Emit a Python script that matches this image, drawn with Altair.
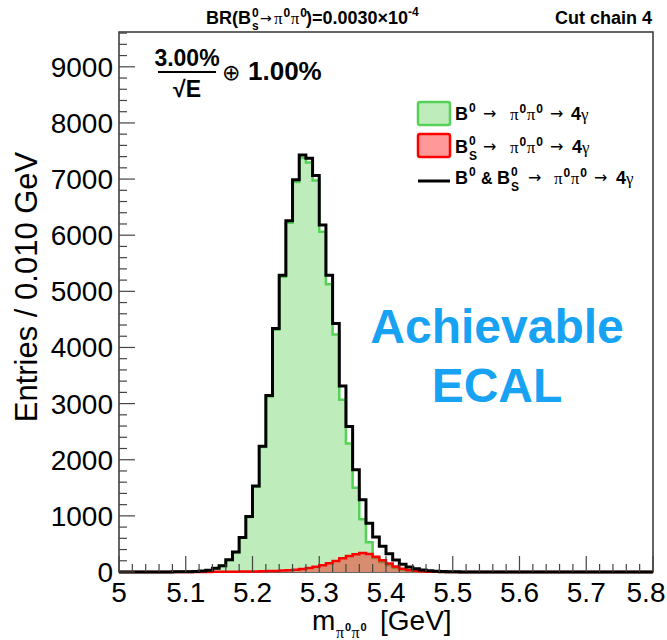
import altair as alt
import pandas as pd

FONT = "Liberation Sans"
SERIF = "Liberation Serif"
ARROW_FONT = "DejaVu Sans"
BLUE = "#17a2f3"

# ---------------- data ----------------
X_MIN, X_MAX = 5.0, 5.8
Y_MAX = 9620
BIN_WIDTH = 0.01
FIRST_FILLED_BIN = 5.05   # bins before this one are empty

# B0 & Bs -> pi0 pi0 -> 4 gamma (black outline), bins 5.05 ... 5.52
total_counts = [1, 1, 2, 3, 4, 6, 9, 16, 32, 66,
                112, 218, 358, 616, 988, 1530, 2238, 3143, 4336, 5286,
                6256, 6988, 7429, 7369, 7065, 6182, 5286, 4426, 3315, 2590,
                1821, 1286, 870, 625, 460, 325, 212, 140, 90, 56,
                35, 21, 13, 8, 5, 3, 2, 1]
# B0 -> pi0 pi0 -> 4 gamma (green), bins 5.05 ... 5.52
b0_counts = [1, 1, 2, 3, 4, 5, 8, 14, 30, 63,
             108, 213, 352, 609, 979, 1519, 2225, 3127, 4316, 5261,
             6224, 6946, 7374, 7297, 6973, 6062, 5128, 4230, 3070, 2290,
             1500, 940, 530, 250, 178, 119, 72, 42, 25, 15,
             9, 5, 3, 2, 1, 1, 0, 0]
# Bs -> pi0 pi0 -> 4 gamma (red), bins 5.05 ... 5.52
bs_counts = [0, 0, 0, 0, 0, 1, 1, 2, 2, 3,
             4, 5, 6, 7, 9, 11, 13, 16, 20, 25,
             32, 42, 55, 72, 92, 120, 158, 196, 245, 285,
             315, 340, 320, 272, 210, 150, 98, 60, 35, 20,
             11, 6, 3, 2, 1, 0, 0, 0]

x_tick_values = [5.0, 5.1, 5.2, 5.3, 5.4, 5.5, 5.6, 5.7, 5.8]
x_tick_labels = ["5", "5.1", "5.2", "5.3", "5.4", "5.5", "5.6", "5.7", "5.8"]
y_tick_values = [0, 1000, 2000, 3000, 4000, 5000, 6000, 7000, 8000, 9000]
y_tick_labels = ["0", "1000", "2000", "3000", "4000", "5000", "6000",
                 "7000", "8000", "9000"]
x_minor_ticks = [round(5.0 + 0.02 * i, 2) for i in range(41)]
y_minor_ticks = [200 * i for i in range(49)]

# ---------------- build step-histogram table ----------------
n_bins = int(round((X_MAX - X_MIN) / BIN_WIDTH))
offset = int(round((FIRST_FILLED_BIN - X_MIN) / BIN_WIDTH))


def pad(vals):
    arr = [0] * n_bins
    for i, v in enumerate(vals):
        arr[offset + i] = v
    return arr + [0]


edges = [round(X_MIN + i * BIN_WIDTH, 2) for i in range(n_bins + 1)]
hist = pd.DataFrame({"x": edges, "total": pad(total_counts),
                     "b0": pad(b0_counts), "bs": pad(bs_counts)})

xs = alt.Scale(domain=[X_MIN, X_MAX], nice=False, zero=False)
ys = alt.Scale(domain=[0, Y_MAX], nice=False)

X = lambda f: alt.X(f, scale=xs, axis=None)
Y = lambda f: alt.Y(f, scale=ys, axis=None)

base = alt.Chart(hist)
green_fill = base.mark_area(interpolate="step-after", color="#bfecbb").encode(
    x=X("x:Q"), y=Y("b0:Q"))
green_line = base.mark_line(interpolate="step-after", color="#55d157",
                            strokeWidth=2.5).encode(x=X("x:Q"), y=Y("b0:Q"))
red_fill = base.mark_area(interpolate="step-after", color="#ff0000",
                          opacity=0.4).encode(x=X("x:Q"), y=Y("bs:Q"))
red_line = base.mark_line(interpolate="step-after", color="#ff0000",
                          strokeWidth=2.5).encode(x=X("x:Q"), y=Y("bs:Q"))
black_line = base.mark_line(interpolate="step-after", color="black",
                            strokeWidth=3).encode(x=X("x:Q"), y=Y("total:Q"))

# ---------------- ROOT-style inner ticks and labels ----------------
xmaj = pd.DataFrame({"v": x_tick_values, "t": x_tick_labels})
xlab_inner = xmaj.iloc[:-1]
xlab_last = xmaj.iloc[-1:]
xmin = pd.DataFrame({"v": [v for v in x_minor_ticks
                           if abs(v * 10 - round(v * 10)) > 1e-6]})
ymaj = pd.DataFrame({"v": y_tick_values, "t": y_tick_labels})
ymin = pd.DataFrame({"v": [v for v in y_minor_ticks if v % 1000 != 0]})

TICK = "#444444"
ticks = [
    alt.Chart(xmaj).mark_rule(color=TICK, strokeWidth=1.2).encode(
        x=X("v:Q"), y=alt.value(540), y2=alt.value(524)),
    alt.Chart(xmin).mark_rule(color=TICK, strokeWidth=1.2).encode(
        x=X("v:Q"), y=alt.value(540), y2=alt.value(532)),
    alt.Chart(ymaj).mark_rule(color=TICK, strokeWidth=1.2).encode(
        y=Y("v:Q"), x=alt.value(0), x2=alt.value(16)),
    alt.Chart(ymin).mark_rule(color=TICK, strokeWidth=1.2).encode(
        y=Y("v:Q"), x=alt.value(0), x2=alt.value(8)),
]
tick_labels = [
    alt.Chart(xlab_inner).mark_text(align="center", baseline="alphabetic",
                                    font=FONT, fontSize=28, color="black").encode(
        x=X("v:Q"), y=alt.value(570), text="t:N"),
    alt.Chart(xlab_last).mark_text(align="center", baseline="alphabetic", dx=-7,
                                   font=FONT, fontSize=28, color="black").encode(
        x=X("v:Q"), y=alt.value(570), text="t:N"),
    alt.Chart(ymaj).mark_text(align="right", baseline="alphabetic", dy=10,
                              font=FONT, fontSize=28, color="black").encode(
        y=Y("v:Q"), x=alt.value(-6), text="t:N"),
]

# ---------------- text helpers ----------------
anchor = pd.DataFrame({"k": [0]})


def label(s, x, y, size, weight="normal", font=FONT, align="left",
          color="black", angle=0):
    return alt.Chart(anchor).mark_text(
        text=s, align=align, baseline="alphabetic", fontSize=size,
        fontWeight=weight, font=font, color=color, angle=angle).encode(
        x=alt.value(x), y=alt.value(y))


def pipi(x, y, s_pi=17, s_sup=12):
    rise = round(s_pi * 0.42)
    w_pi = 0.56 * s_pi
    w_sup = 0.6 * s_sup
    return [label("π", x, y, s_pi, font=SERIF),
            label("0", x + w_pi, y - rise, s_sup, "bold"),
            label("π", x + w_pi + w_sup, y, s_pi, font=SERIF),
            label("0", x + 2 * w_pi + w_sup, y - rise, s_sup, "bold")]


texts = []
# y-axis title
texts += [alt.Chart(anchor).mark_text(
    text="Entries / 0.010 GeV", align="center", baseline="middle",
    fontSize=31, font=FONT, color="black", angle=270).encode(
    x=alt.value(-91), y=alt.value(255))]

# top title
texts += [label("BR(B", 87, -8, 18, "bold"),
          label("0", 133, -15, 12, "bold"),
          label("s", 133, -2, 12, "bold"),
          label("→", 141, -9, 14, font=ARROW_FONT)]
texts += pipi(155, -8, 17, 12)
texts += [label(")=0.0030×10", 187, -8, 18, "bold"),
          label("-4", 289, -16, 12, "bold"),
          label("Cut chain 4", 533, -8, 18, "bold", align="right")]

# resolution formula
texts += [label("3.00%", 68, 34, 23, "bold", align="center"),
          label("√E", 68, 65, 23, "bold", align="center"),
          label("⊕", 103, 48, 22, font="DejaVu Sans"),
          label("1.00%", 129, 48, 26, "bold")]
frac_line = alt.Chart(anchor).mark_rule(color="black", strokeWidth=2).encode(
    x=alt.value(39), x2=alt.value(97), y=alt.value(40))

# legend
swatches = [
    alt.Chart(anchor).mark_rect(fill="#bfecbb", stroke="#55d157", strokeWidth=2.5,
                                cornerRadius=2).encode(
        x=alt.value(299), x2=alt.value(331), y=alt.value(70), y2=alt.value(93)),
    alt.Chart(anchor).mark_rect(fill="#ff9999", stroke="#ff0000", strokeWidth=2.5,
                                cornerRadius=2).encode(
        x=alt.value(299), x2=alt.value(331), y=alt.value(102), y2=alt.value(125)),
    alt.Chart(anchor).mark_rule(color="black", strokeWidth=3).encode(
        x=alt.value(299), x2=alt.value(331), y=alt.value(149)),
]
AR = 16
# row 1
texts += [label("B", 336, 88, 18, "bold"), label("0", 350, 80, 12, "bold"),
          label("→", 364, 87, AR, font=ARROW_FONT)]
texts += pipi(391, 88)
texts += [label("→", 431, 87, AR, font=ARROW_FONT),
          label("4", 452, 88, 18, "bold"),
          label("γ", 462, 88, 17, font=SERIF)]
# row 2
texts += [label("B", 336, 121, 18, "bold"), label("0", 350, 113, 12, "bold"),
          label("S", 350, 128, 12, "bold"),
          label("→", 364, 120, AR, font=ARROW_FONT)]
texts += pipi(391, 121)
texts += [label("→", 431, 120, AR, font=ARROW_FONT),
          label("4", 453, 121, 18, "bold"),
          label("γ", 463, 121, 17, font=SERIF)]
# row 3
texts += [label("B", 336, 152, 18, "bold"), label("0", 350, 144, 12, "bold"),
          label("&", 362, 152, 16, "bold"), label("B", 378, 152, 18, "bold"),
          label("0", 392, 144, 12, "bold"), label("S", 392, 159, 12, "bold"),
          label("→", 409, 151, AR, font=ARROW_FONT)]
texts += pipi(435, 152)
texts += [label("→", 475, 151, AR, font=ARROW_FONT),
          label("4", 497, 152, 18, "bold"),
          label("γ", 507, 152, 17, font=SERIF)]

# big annotation
texts += [label("Achievable", 378, 311, 48, "bold", align="center", color=BLUE),
          label("ECAL", 378, 370, 48, "bold", align="center", color=BLUE)]

# x-axis title
texts += [label("m", 193, 598, 28)]
texts += pipi(217, 606, 16, 11)
texts += [label("[GeV]", 261, 598, 28)]

chart = alt.layer(
    green_fill, green_line, red_fill, red_line, black_line,
    *ticks, *tick_labels, frac_line, *swatches, *texts
).properties(
    width=534, height=540,
    autosize=alt.AutoSizeParams(type="none"),
    padding={"left": 119, "top": 32, "right": 14, "bottom": 68},
    background="white",
).configure_view(stroke="#333333", strokeWidth=1.5)

chart.save("out.html", embed_options={"renderer": "svg", "actions": False})
